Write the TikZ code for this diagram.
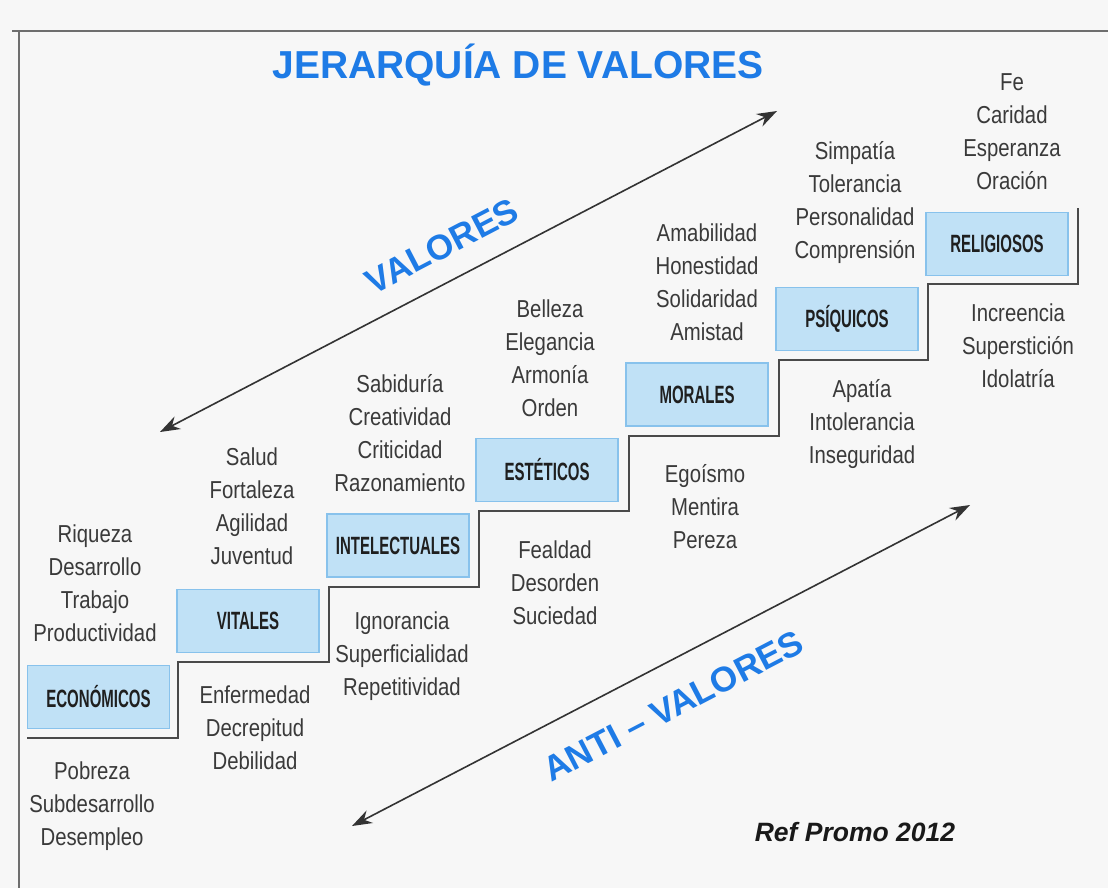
\documentclass[tikz,border=0pt]{standalone}
\usepackage{fontspec}
\setmainfont{Liberation Sans}
\newfontfamily\wordfont[FakeStretch=0.83]{Liberation Sans}
\newfontfamily\boxfont[FakeStretch=0.6]{Liberation Sans}
\usetikzlibrary{arrows.meta}
\definecolor{bgcol}{HTML}{F7F7F7}
\definecolor{titleblue}{HTML}{1E7BE6}
\definecolor{boxfill}{HTML}{C0E1F6}
\definecolor{boxline}{HTML}{88C2EC}
\definecolor{txt}{HTML}{3A3A3A}
\definecolor{stairline}{HTML}{4A4A4A}
\definecolor{framecol}{HTML}{6E6E6E}
\begin{document}
\begin{tikzpicture}[x=1pt,y=-1pt,
  words/.style={align=center,text=txt,inner sep=0pt,
    font=\wordfont\fontsize{24.5}{33}\selectfont},
  levelbox/.style={draw=boxline,line width=1.8pt,fill=boxfill,
    minimum width=142pt,minimum height=63pt,inner sep=0pt,text=black!88,
    font=\boxfont\bfseries\fontsize{25}{26}\selectfont},
  axislabel/.style={text=titleblue,inner sep=0pt,
    font=\bfseries\fontsize{35}{40}\selectfont},
  axisarrow/.style={draw=black!80,line width=1.6pt,
    {Stealth[length=20pt,width=14pt]}-{Stealth[length=20pt,width=14pt]}}]
\fill[bgcol] (0,0) rectangle (1108,888);
\path[use as bounding box] (0,0) rectangle (1108,888);
% frame
\draw[framecol,line width=1.5pt] (12,31) -- (1108,31);
\draw[framecol,line width=1.5pt] (19,31) -- (19,888);
% title
\node[text=titleblue,inner sep=0pt,font=\bfseries\fontsize{39}{42}\selectfont] (title) at (518,65) {JERARQUÍA DE VALORES};
% staircase
\draw[stairline,line width=1.8pt,line join=miter]
  (27,738) -- (178,738) -- (178,662) -- (329,662) -- (329,587) -- (479,587)
  -- (479,511) -- (629,511) -- (629,436) -- (779,436) -- (779,360)
  -- (928,360) -- (928,284) -- (1078,284) -- (1078,208);
% boxes
\node[levelbox] (eco) at (98.5,697) {ECONÓMICOS};
\node[levelbox] (vit) at (248,621) {VITALES};
\node[levelbox] (int) at (398,545.5) {INTELECTUALES};
\node[levelbox] (est) at (547,470) {ESTÉTICOS};
\node[levelbox] (mor) at (697,394.5) {MORALES};
\node[levelbox] (psi) at (847,319) {PSÍQUICOS};
\node[levelbox] (rel) at (997,244) {RELIGIOSOS};
% values
\node[words] (ecoA) at (95,583) {Riqueza\\Desarrollo\\Trabajo\\Productividad};
\node[words] (ecoB) at (92,806) {Pobreza\\Subdesarrollo\\Desempleo};
\node[words] (vitA) at (252,506) {Salud\\Fortaleza\\Agilidad\\Juventud};
\node[words] (vitB) at (255,728) {Enfermedad\\Decrepitud\\Debilidad};
\node[words] (intA) at (400,433) {Sabiduría\\Creatividad\\Criticidad\\Razonamiento};
\node[words] (intB) at (402,656) {Ignorancia\\Superficialidad\\Repetitividad};
\node[words] (estA) at (550,358) {Belleza\\Elegancia\\Armonía\\Orden};
\node[words] (estB) at (555,583) {Fealdad\\Desorden\\Suciedad};
\node[words] (morA) at (707,282) {Amabilidad\\Honestidad\\Solidaridad\\Amistad};
\node[words] (morB) at (705,507) {Egoísmo\\Mentira\\Pereza};
\node[words] (psiA) at (855,203) {Simpatía\\Tolerancia\\Personalidad\\Comprensión};
\node[words] (psiB) at (862,424) {Apatía\\Intolerancia\\Inseguridad};
\node[words] (relA) at (1012,132) {Fe\\Caridad\\Esperanza\\Oración};
\node[words] (relB) at (1018,346) {Increencia\\Superstición\\Idolatría};
% axes
\coordinate (vlow) at (160,432);
\coordinate (vhigh) at (777,111);
\coordinate (alow) at (352,826);
\coordinate (ahigh) at (970,505);
\draw[axisarrow] (vlow) -- (vhigh);
\draw[axisarrow] (alow) -- (ahigh);
\node[axislabel,rotate=27.5] (vlabel) at (442,246) {VALORES};
\node[axislabel,rotate=27.5] (alabel) at (673,706) {ANTI – VALORES};
% credit
\node[inner sep=0pt,text=black!90,font=\bfseries\itshape\fontsize{26.5}{28}\selectfont] (credit) at (855,832) {Ref Promo 2012};
\end{tikzpicture}
\end{document}
